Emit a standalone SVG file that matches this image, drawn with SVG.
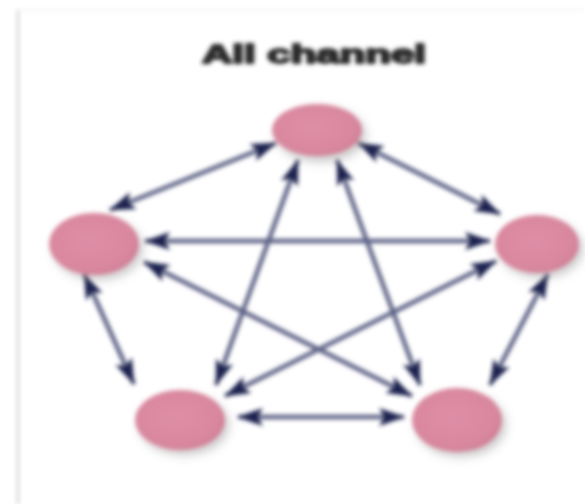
<svg xmlns="http://www.w3.org/2000/svg" width="585" height="504" viewBox="0 0 585 504">
  <style>
    .title { font-family: "Liberation Sans", Arial, sans-serif; font-weight: bold; font-size: 25px; fill: #2b2b2b; stroke: #2b2b2b; stroke-width: 2; stroke-linejoin: round; }
    .link { stroke: #5b6184; stroke-width: 4.5; fill: none; marker-start: url(#head); marker-end: url(#head); }
    .node { fill: url(#nodeFill); }
    .shadow { fill: #8a8a8a; opacity: 0.45; filter: url(#shadowBlur); }
    .frame { stroke: #c8c8c8; stroke-width: 2; }
  </style>
  <defs>
    <marker id="head" viewBox="0 0 26 18" markerWidth="26" markerHeight="18" refX="25" refY="9" orient="auto-start-reverse" markerUnits="userSpaceOnUse">
      <path d="M0,0 L26,9 L0,18 L5,9 z" fill="#1d2350"/>
    </marker>
    <radialGradient id="nodeFill" cx="0.45" cy="0.45" r="0.6">
      <stop offset="0" stop-color="#de8ea6"/>
      <stop offset="0.8" stop-color="#d8879e"/>
      <stop offset="1" stop-color="#c97891"/>
    </radialGradient>
    <filter id="shadowBlur" x="-30%" y="-30%" width="160%" height="160%">
      <feGaussianBlur stdDeviation="4"/>
    </filter>
    <filter id="soft" x="-5%" y="-5%" width="110%" height="110%">
      <feGaussianBlur stdDeviation="1.9"/>
    </filter>
  </defs>

  <rect width="585" height="504" fill="#ffffff"/>

  <g filter="url(#soft)">
    <!-- page frame -->
    <line class="frame" x1="18" y1="10" x2="18" y2="504"/>
    <line x1="18" y1="10" x2="585" y2="10" stroke="#efefef" stroke-width="1.5"/>

    <text class="title" x="314" y="63" text-anchor="middle" textLength="224" lengthAdjust="spacingAndGlyphs">All channel</text>

    <!-- connectors: every member linked both ways with every other -->
    <g id="connectors">
      <line class="link" x1="110" y1="210" x2="276" y2="143"/>
      <line class="link" x1="358" y1="143" x2="500" y2="214"/>
      <line class="link" x1="145" y1="241" x2="490" y2="241"/>
      <line class="link" x1="84" y1="274" x2="134" y2="384"/>
      <line class="link" x1="548" y1="274" x2="490" y2="385"/>
      <line class="link" x1="238" y1="417" x2="404" y2="417"/>
      <line class="link" x1="298" y1="160" x2="216" y2="385"/>
      <line class="link" x1="337" y1="160" x2="420" y2="385"/>
      <line class="link" x1="144" y1="262" x2="412" y2="396"/>
      <line class="link" x1="496" y1="261" x2="225" y2="396"/>
    </g>

    <g id="node-top">
      <ellipse class="shadow" cx="321" cy="135" rx="45" ry="27"/>
      <ellipse class="node" cx="317" cy="130" rx="45" ry="26"/>
    </g>
    <g id="node-left">
      <ellipse class="shadow" cx="98" cy="249" rx="45" ry="31"/>
      <ellipse class="node" cx="94" cy="244" rx="45" ry="31"/>
    </g>
    <g id="node-right">
      <ellipse class="shadow" cx="541" cy="249" rx="42" ry="29"/>
      <ellipse class="node" cx="537" cy="244" rx="42" ry="29"/>
    </g>
    <g id="node-bottom-left">
      <ellipse class="shadow" cx="184" cy="425" rx="45" ry="30"/>
      <ellipse class="node" cx="180" cy="420" rx="45" ry="30"/>
    </g>
    <g id="node-bottom-right">
      <ellipse class="shadow" cx="461" cy="425" rx="45" ry="32"/>
      <ellipse class="node" cx="457" cy="420" rx="45" ry="32"/>
    </g>
  </g>
</svg>
